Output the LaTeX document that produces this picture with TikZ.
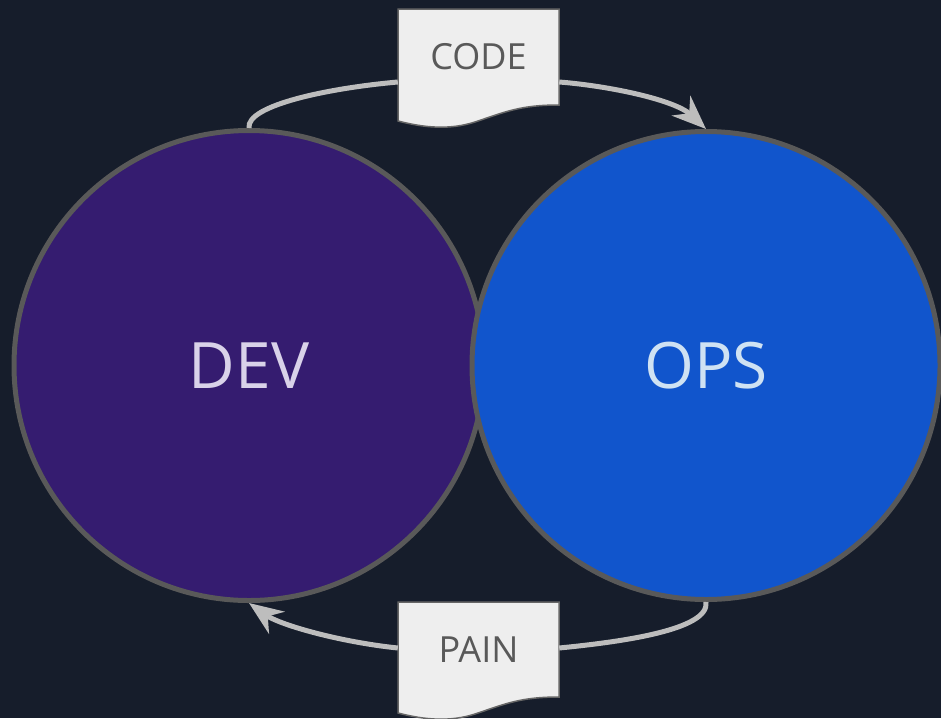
\documentclass[tikz,border=0pt]{standalone}
\usepackage{fontspec}
\setmainfont{Open Sans}
\usetikzlibrary{arrows.meta}
\definecolor{bg}{HTML}{161D2B}
\definecolor{devfill}{HTML}{351C70}
\definecolor{opsfill}{HTML}{1155CC}
\definecolor{ringcol}{HTML}{595959}
\definecolor{devtext}{HTML}{D9D2E9}
\definecolor{opstext}{HTML}{CFE2F3}
\definecolor{linkcol}{HTML}{BDBDBD}
\definecolor{docfill}{HTML}{EEEEEE}
\definecolor{docedge}{HTML}{666666}
\definecolor{doctext}{HTML}{595959}
\tikzset{
  bigcircle/.style={circle, inner sep=0pt, line width=5pt, draw=ringcol,
    font=\fontsize{64}{70}\selectfont},
  docbox/.style={minimum width=161pt, minimum height=96pt, inner sep=0pt,
    text=doctext, font=\fontsize{36}{40}\selectfont},
  docshape/.style={fill=docfill, draw=docedge, line width=1.5pt},
  link/.style={draw=linkcol, line width=5pt},
  linkarrow/.style={link, -{Stealth[length=34pt,width=27pt,inset=11pt]}},
}
\begin{document}
\begin{tikzpicture}[x=1pt,y=-1pt]
\useasboundingbox (0,0) rectangle (941,718);
\fill[bg] (0,0) rectangle (941,718);
\node[bigcircle, minimum size=470pt, fill=devfill, text=devtext] (dev) at (249,365.5) {DEV};
\node[bigcircle, minimum size=468pt, fill=opsfill, text=opstext] (ops) at (706,365.5) {OPS};
% CODE document
\draw[docshape] (398,9) -- (559,9) -- (559,105)
  .. controls (520,105) and (505,112) .. (475,122)
  .. controls (450,130) and (425,128) .. (398,121) -- cycle;
\node[docbox] (code) at (478.5,57) {CODE};
% PAIN document
\draw[docshape] (398,602) -- (559,602) -- (559,697)
  .. controls (520,697) and (505,704) .. (475,714)
  .. controls (450,722) and (425,720) .. (398,713) -- cycle;
\node[docbox] (pain) at (478.5,650) {PAIN};
% connectors
\draw[link] (dev.north) .. controls (246,105) and (330,88) .. (code.west |- 0,82);
\draw[linkarrow] (code.east |- 0,82) .. controls (610,86) and (675,100) .. (ops.north);
\draw[link] (ops.south) .. controls (710,630) and (620,642) .. (pain.east |- 0,648);
\draw[linkarrow] (pain.west |- 0,648) .. controls (340,642) and (280,625) .. (dev.south);
\end{tikzpicture}
\end{document}
